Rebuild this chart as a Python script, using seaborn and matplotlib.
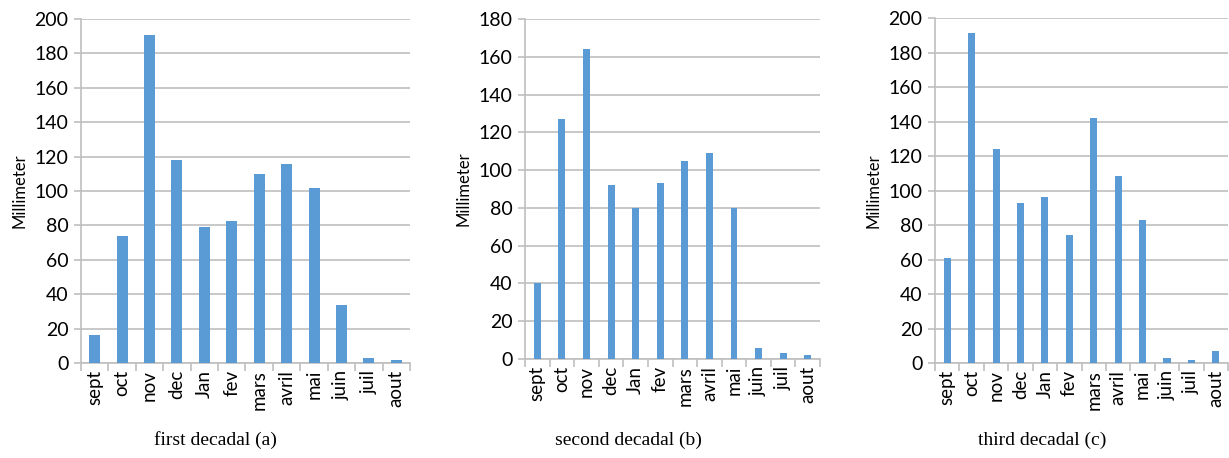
import numpy as np
import pandas as pd
import matplotlib
matplotlib.use("Agg")
import matplotlib.pyplot as plt
import seaborn as sns

months = ["sept", "oct", "nov", "dec", "Jan", "fev", "mars", "avril", "mai", "juin", "juil", "aout"]

first_decadal = [16, 74, 191, 118, 79, 82.5, 110, 116, 101.5, 34, 3, 2]
second_decadal = [40, 127, 164, 92, 80, 93, 105, 109, 80, 6, 3, 2]
third_decadal = [61, 191.5, 124, 92.5, 96.5, 74, 142, 108.5, 83, 3, 1.5, 7]

titles = ["first decadal (a)", "second decadal (b)", "third decadal (c)"]
y_max = [200, 180, 200]

sns.set_theme(style="white")
plt.rcParams["font.family"] = ["Lato", "DejaVu Sans"]

BAR_COLOR = "#5b9bd5"
GRID_COLOR = "#bfbfbf"

fig = plt.figure(figsize=(12.29, 4.58), dpi=100)

# axes rectangles [left, bottom, width, height] in figure fraction
rects = [
    [0.0659, 0.2074, 0.2677, 0.7510],
    [0.4272, 0.2162, 0.2400, 0.7424],
    [0.7608, 0.2074, 0.2384, 0.7533],
]
bar_widths = [0.40, 0.28, 0.29]
title_x = [215, 628, 1042]

for series, title, ymax, rect, bw, tx in zip(
    [first_decadal, second_decadal, third_decadal], titles, y_max, rects, bar_widths, title_x
):
    ax = fig.add_axes(rect)
    df = pd.DataFrame({"month": months, "mm": series})
    sns.barplot(data=df, x="month", y="mm", color=BAR_COLOR, width=bw,
                saturation=1, linewidth=0, ax=ax, zorder=3)
    ax.set_xlim(-0.5, len(months) - 0.5)
    ax.set_ylim(0, ymax)
    ax.set_yticks(np.arange(0, ymax + 1, 20))
    ax.yaxis.grid(True, color=GRID_COLOR, linewidth=1.2, zorder=0)
    ax.xaxis.grid(False)
    for side in ["top", "right"]:
        ax.spines[side].set_visible(False)
    for side in ["left", "bottom"]:
        ax.spines[side].set_color(GRID_COLOR)
        ax.spines[side].set_linewidth(1.2)
    ax.set_xlabel("")
    ax.set_ylabel("Millimeter", fontsize=12, color="black", labelpad=5)
    ax.tick_params(axis="y", which="major", left=True, length=5, width=1.2,
                   color=GRID_COLOR, labelsize=14, labelcolor="black", pad=4)
    ax.tick_params(axis="x", which="major", bottom=False, length=0,
                   labelsize=13.5, labelcolor="black", labelrotation=90, pad=5)
    ax.set_xticks(np.arange(-0.5, len(months), 1.0), minor=True)
    ax.tick_params(axis="x", which="minor", bottom=True, length=6, width=1.2,
                   color=GRID_COLOR, direction="out")
    fig.text(tx / 1229, 1 - 440 / 458, title, ha="center", va="center",
             fontsize=14, family=["Liberation Serif", "DejaVu Serif"], color="black")

fig.savefig("out.png", dpi=100)
